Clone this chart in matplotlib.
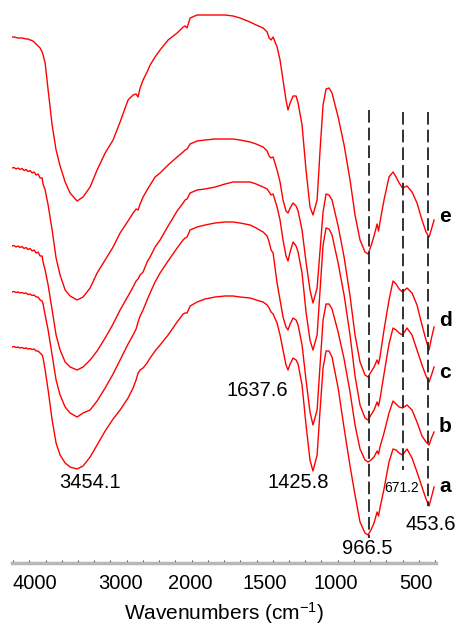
import numpy as np
import matplotlib
matplotlib.use("Agg")
import matplotlib.pyplot as plt

plt.rcParams["font.family"] = ["Liberation Sans", "DejaVu Sans"]
plt.rcParams["mathtext.fontset"] = "custom"
plt.rcParams["mathtext.rm"] = "Liberation Sans"
plt.rcParams["mathtext.default"] = "regular"

# wavenumber grid (cm-1) shared by all spectra
wavenumber = [4263, 4240, 4216, 4193, 4170, 4146, 4123, 4099, 4076, 4053, 4029, 4006, 3982, 3959, 3936, 3912,
              3901, 3877, 3842, 3795, 3749, 3702, 3643, 3585, 3503, 3433, 3351, 3269, 3175, 3082, 3000,
              2887, 2816, 2773, 2745, 2716, 2674, 2617, 2574, 2504, 2433, 2319, 2191, 2106, 2078, 2050, 2007,
              1956, 1902, 1834, 1767, 1713, 1666, 1598, 1557, 1510,
              1482, 1468, 1454, 1440, 1412, 1391, 1370, 1349, 1335, 1320, 1299, 1278, 1264, 1236, 1208, 1180,
              1159, 1130, 1109, 1088, 1067, 1046, 1025,
              984, 947, 910, 879, 848, 817, 798,
              780, 761, 742, 733, 724, 699, 668, 643, 624, 605, 584, 556, 525, 494, 463, 438, 419, 404, 388]

# stacked spectra (offset units, larger = lower on the plot)
spec_e = [37, 37, 37.5, 38, 38, 38, 38.5, 39, 39, 40, 40.5, 42, 44, 46, 48, 52,
          55, 63, 90, 125, 150, 166, 182, 193, 201, 197, 187, 170, 153, 140, 122,
          100, 95, 94, 97, 88, 80, 72, 65, 57, 50, 40, 33, 27, 26, 28, 18,
          15, 15, 15, 15, 16, 18, 22, 25, 28,
          32, 38, 40, 37, 47, 60, 80, 100, 110, 103, 96, 96, 103, 125, 170, 207, 215, 200, 150, 105, 89, 88, 93,
          117, 145, 180, 215, 240, 252, 254,
          246, 236, 224, 231, 222, 200, 177, 172, 177, 183, 188, 186, 192, 203, 220, 232, 237, 229, 220]
spec_d = [168, 167.5, 169, 168, 169.5, 168.5, 170.5, 169.5, 171.5, 170.5, 173, 172, 175, 174, 178, 178,
          184, 190, 205, 230, 258, 275, 290, 296, 300, 297, 288, 273, 260, 247, 233,
          221, 213, 209, 210, 204, 197, 190, 185, 177, 173, 165, 157, 152, 150, 149, 144,
          141, 140, 139, 139, 139, 140, 142, 144, 147,
          151, 156, 158, 157, 170, 182, 200, 211, 213, 208, 203, 206, 211, 230, 262, 290, 303, 288, 250, 212, 194, 195, 200,
          226, 257, 296, 335, 362, 375, 377,
          372, 367, 360, 364, 357, 330, 300, 281, 284, 289, 292, 288, 293, 305, 325, 340, 350, 338, 327]
spec_c = [246, 245.5, 247, 246, 247.5, 246.5, 248.5, 247.5, 249.5, 248.5, 251, 250, 253, 252, 256, 256,
          262, 270, 285, 310, 335, 350, 362, 367, 370, 367, 360, 351, 338, 324, 310,
          296, 287, 281, 279, 275, 272, 262, 257, 247, 240, 226, 211, 203, 200, 199, 193,
          190, 189, 187, 184, 182, 182, 182, 184, 187,
          189, 192, 195, 194, 207, 220, 240, 256, 261, 252, 242, 246, 252, 273, 312, 340, 350, 335, 290, 245, 228, 229, 235,
          263, 295, 335, 376, 405, 418, 420,
          415, 410, 402, 406, 399, 374, 344, 328, 330, 333, 335, 328, 335, 350, 365, 376, 382, 375, 367]
spec_b = [292, 291.5, 292.5, 292, 293, 292.5, 293.5, 293, 294.5, 294, 295.5, 295, 297, 297, 300, 301,
          304, 315, 330, 355, 380, 395, 407, 413, 417, 413, 410, 401, 388, 374, 360,
          344, 335, 329, 322, 316, 310, 300, 293, 282, 273, 261, 248, 240, 238, 237, 230,
          227, 225, 223, 222, 222, 223, 225, 228, 232,
          236, 242, 250, 253, 283, 300, 317, 327, 330, 324, 318, 320, 325, 345, 380, 412, 425, 410, 365, 320, 304, 304, 309,
          332, 359, 392, 425, 449, 460, 462,
          460, 457, 451, 454, 447, 433, 413, 401, 404, 407, 408, 405, 410, 422, 436, 442, 445, 438, 432]
spec_a = [347, 346.5, 347.5, 347, 348, 347.5, 348.5, 348, 349, 348.5, 349.5, 349, 351, 351, 353, 355,
          358, 370, 390, 420, 443, 455, 463, 467, 469, 466, 457, 445, 431, 419, 410,
          398, 388, 380, 373, 370, 368, 363, 358, 351, 345, 335, 322, 314, 313, 313, 306,
          302, 299, 297, 296, 296, 297, 298, 300, 302,
          305, 308, 312, 314, 323, 335, 350, 365, 370, 364, 358, 360, 364, 385, 425, 460, 471, 455, 410, 368, 351, 351, 357,
          388, 428, 466, 495, 522, 533, 535,
          530, 523, 512, 516, 508, 489, 462, 449, 450, 453, 455, 449, 458, 472, 487, 499, 506, 497, 487]

sample_labels = ["e", "d", "c", "b", "a"]
label_y = [217, 320, 373, 427, 487]

peak_text = ["3454.1", "1637.6", "1425.8", "966.5", "671.2", "453.6"]
peak_x = [3351, 1546, 1264, 804, 587, 407]
peak_y = [482, 390, 482, 548, 488, 525]
peak_size = [14.5, 14.5, 14.5, 14.5, 10, 14.5]

guide_x = [790, 583, 425]
guide_top = [110, 112, 112]
guide_bottom = [538, 470, 506]

tick_wn = [4000, 3000, 2000, 1500, 1000, 500]

# the original axis is not linear in wavenumber: piecewise scale
# (position is negated so the transform increases with wavenumber)
wn_anchor = np.array([-20000, 500, 1000, 1500, 2000, 3000, 4000, 30000])
pos_anchor = -np.array([3716.5, 416, 335.5, 264.5, 190.5, 120, 34.5, -2201.5])


def fwd(w):
    return np.interp(w, wn_anchor, pos_anchor)


def inv(p):
    return np.interp(p, pos_anchor, wn_anchor)


fig = plt.figure(figsize=(4.57, 6.25), dpi=100)
ax = fig.add_axes([12 / 457, 62 / 625, 424 / 457, 563 / 625])
ax.set_xscale("function", functions=(fwd, inv))
ax.set_xlim(4263, 376)
ax.set_ylim(563, 0)

for spec in [spec_e, spec_d, spec_c, spec_b, spec_a]:
    ax.plot(wavenumber, spec, color="#ff0000", lw=1.0)

ax.vlines(guide_x, guide_top, guide_bottom, colors="#222222", lw=1.3,
          linestyles=(0, (7, 2.8)))

for lab, y in zip(sample_labels, label_y):
    ax.text(318, y, lab, ha="center", va="center", fontsize=15, fontweight="bold")

for t, x, y, s in zip(peak_text, peak_x, peak_y, peak_size):
    ax.text(x, y, t, ha="center", va="center", fontsize=s)

for s in ["top", "left", "right"]:
    ax.spines[s].set_visible(False)
ax.spines["bottom"].set_color("#b8b8b8")
ax.spines["bottom"].set_linewidth(2.5)

ax.set_yticks([])
ax.set_xticks(tick_wn)
ax.set_xticklabels([str(t) for t in tick_wn])
ax.set_xticks(inv(-np.linspace(13, 435, 27)), minor=True)
ax.tick_params(axis="x", which="major", length=0, pad=8, labelsize=14.5)
ax.tick_params(axis="x", which="minor", direction="in", length=2.5, width=0.8, color="#444444")
ax.set_xlabel("Wavenumbers (cm$^{-1}$)", fontsize=15, labelpad=5)

fig.savefig("out.png", dpi=100)
